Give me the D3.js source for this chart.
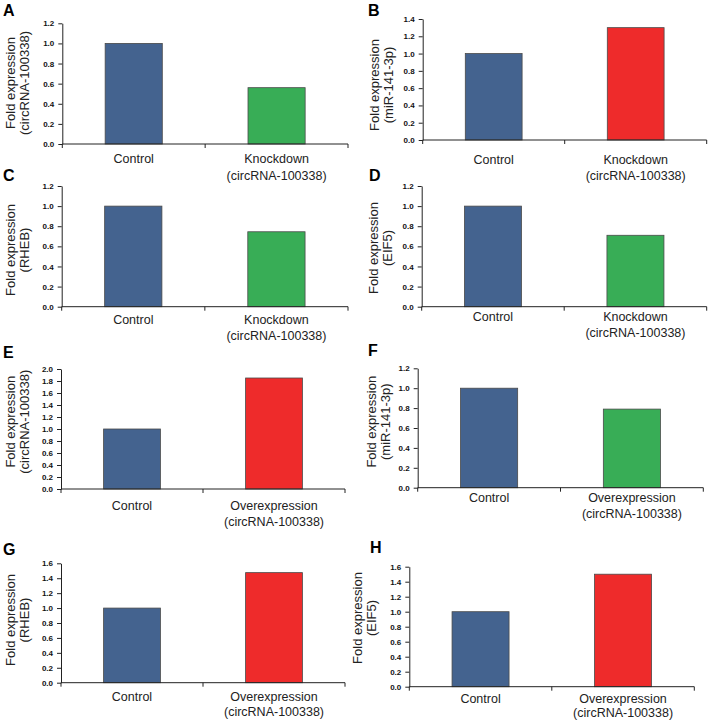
<!DOCTYPE html>
<html>
<head>
<meta charset="utf-8">
<script src="https://cdn.jsdelivr.net/npm/d3@7/dist/d3.min.js"></script>
<style>
  html, body { margin: 0; padding: 0; background: #fff; }
  svg { display: block; font-family: "Liberation Sans", Arial, sans-serif; }
</style>
</head>
<body>
<svg id="chart" width="710" height="722"></svg>
<script>
// ---------- DATA ----------
const panelLetters = ["A", "B", "C", "D", "E", "F", "G", "H"];
const yTitleSub = ["(circRNA-100338)", "(miR-141-3p)", "(RHEB)", "(EIF5)",
                   "(circRNA-100338)", "(miR-141-3p)", "(RHEB)", "(EIF5)"];
const treatmentLabels = ["Knockdown", "Knockdown", "Knockdown", "Knockdown",
                         "Overexpression", "Overexpression", "Overexpression", "Overexpression"];
const treatmentSub = "(circRNA-100338)";
const controlLabel = "Control";
const controlValues = [1.0, 1.0, 1.0, 1.0, 1.0, 1.0, 1.0, 1.0];
const treatmentValues = [0.56, 1.30, 0.745, 0.71, 1.85, 0.79, 1.475, 1.50];
const yMaxValues = [1.2, 1.4, 1.2, 1.2, 2.0, 1.2, 1.6, 1.6];
const tickStep = 0.2;
const treatmentIsUp = [false, true, false, false, true, false, true, true];

// ---------- LAYOUT (pixel geometry of each panel) ----------
const layout = [
  {x0: 62.3,  x1: 348,   yT: 23.3,  yB: 144,   lx: 3,   ly: 15.5, t1: 10,  t2: 24,  ty: 83,    c1: 158,   c2: 175},
  {x0: 422.7, x1: 706.7, yT: 19,    yB: 140,   lx: 368, ly: 15.5, t1: 374, t2: 388, ty: 85,    c1: 159,   c2: 175},
  {x0: 61.7,  x1: 348,   yT: 186,   yB: 306.7, lx: 3,   ly: 181,  t1: 10,  t2: 24,  ty: 250,   c1: 319,   c2: 335.7},
  {x0: 421.7, x1: 706.7, yT: 186,   yB: 306.7, lx: 369, ly: 181,  t1: 373, t2: 387, ty: 248,   c1: 316.7, c2: 332},
  {x0: 61,    x1: 345,   yT: 369,   yB: 489,   lx: 3,   ly: 358,  t1: 10,  t2: 24,  ty: 421.7, c1: 505,   c2: 521.7},
  {x0: 417.7, x1: 703.3, yT: 368.3, yB: 487.7, lx: 368, ly: 356,  t1: 371, t2: 385, ty: 421.7, c1: 497.7, c2: 513},
  {x0: 61,    x1: 345,   yT: 563.3, yB: 682.7, lx: 3,   ly: 555,  t1: 10,  t2: 24,  ty: 620,   c1: 696,   c2: 711.7},
  {x0: 409.3, x1: 694.3, yT: 566.7, yB: 686.7, lx: 370, ly: 553,  t1: 357, t2: 371, ty: 618,   c1: 698.3, c2: 712.7}
];

const BLUE = "#44638f", GREEN = "#38ad56", RED = "#ee2b2b";

const svg = d3.select("#chart");

panelLetters.forEach((letter, i) => {
  const L = layout[i];
  const g = svg.append("g");
  const cats = [controlLabel, treatmentLabels[i]];
  const vals = [controlValues[i], treatmentValues[i]];

  const x = d3.scaleBand().domain(cats).range([L.x0, L.x1])
    .paddingInner(0.6).paddingOuter(0.3);
  const y = d3.scaleLinear().domain([0, yMaxValues[i]]).range([L.yB, L.yT]);

  const nTicks = Math.round(yMaxValues[i] / tickStep);
  const ticks = d3.range(nTicks + 1).map(k => +(k * tickStep).toFixed(1));

  // y axis
  const ya = g.append("g").attr("transform", `translate(${L.x0},0)`)
    .call(d3.axisLeft(y).tickValues(ticks).tickFormat(d3.format(".1f")).tickSize(4).tickSizeOuter(0).tickPadding(4));
  ya.select(".domain").attr("stroke", "#222").attr("stroke-width", 1);
  ya.selectAll(".tick line").attr("stroke", "#222");
  ya.selectAll(".tick text").attr("font-size", 8).attr("font-weight", "bold")
    .attr("fill", "#111").attr("font-family", "'Liberation Sans', Arial, sans-serif");

  // bars
  g.selectAll("rect.bar").data(cats).enter().append("rect")
    .attr("x", d => x(d))
    .attr("width", x.bandwidth())
    .attr("y", (d, k) => y(vals[k]))
    .attr("height", (d, k) => y(0) - y(vals[k]))
    .attr("fill", (d, k) => k === 0 ? BLUE : (treatmentIsUp[i] ? RED : GREEN))
    .attr("stroke", "#4a4a4a").attr("stroke-width", 0.8);

  // x axis baseline with boundary ticks
  g.append("line").attr("x1", L.x0).attr("x2", L.x1).attr("y1", L.yB).attr("y2", L.yB)
    .attr("stroke", "#222").attr("stroke-width", 1);
  const bounds = [L.x0, (L.x0 + L.x1) / 2, L.x1];
  g.selectAll("line.xt").data(bounds).enter().append("line")
    .attr("x1", d => d).attr("x2", d => d)
    .attr("y1", L.yB).attr("y2", L.yB + 4)
    .attr("stroke", "#222").attr("stroke-width", 1);

  // category labels
  const cx = cats.map(c => x(c) + x.bandwidth() / 2);
  g.append("text").attr("x", cx[0]).attr("y", L.c1 + 4.5).attr("text-anchor", "middle")
    .attr("font-size", 12.5).attr("fill", "#222").text(cats[0]);
  g.append("text").attr("x", cx[1]).attr("y", L.c1 + 4.5).attr("text-anchor", "middle")
    .attr("font-size", 12.5).attr("fill", "#222").text(cats[1]);
  g.append("text").attr("x", cx[1]).attr("y", L.c2 + 4.5).attr("text-anchor", "middle")
    .attr("font-size", 12.5).attr("fill", "#222").text(treatmentSub);

  // y axis title (two lines, rotated)
  [["Fold expression", L.t1], [yTitleSub[i], L.t2]].forEach(([txt, tx]) => {
    g.append("text")
      .attr("transform", `translate(${tx + 4.5},${L.ty}) rotate(-90)`)
      .attr("text-anchor", "middle")
      .attr("font-size", 13).attr("fill", "#222").text(txt);
  });

  // panel letter
  g.append("text").attr("x", L.lx).attr("y", L.ly)
    .attr("font-size", 16).attr("font-weight", "bold").attr("fill", "#000").text(letter);
});
</script>
</body>
</html>
